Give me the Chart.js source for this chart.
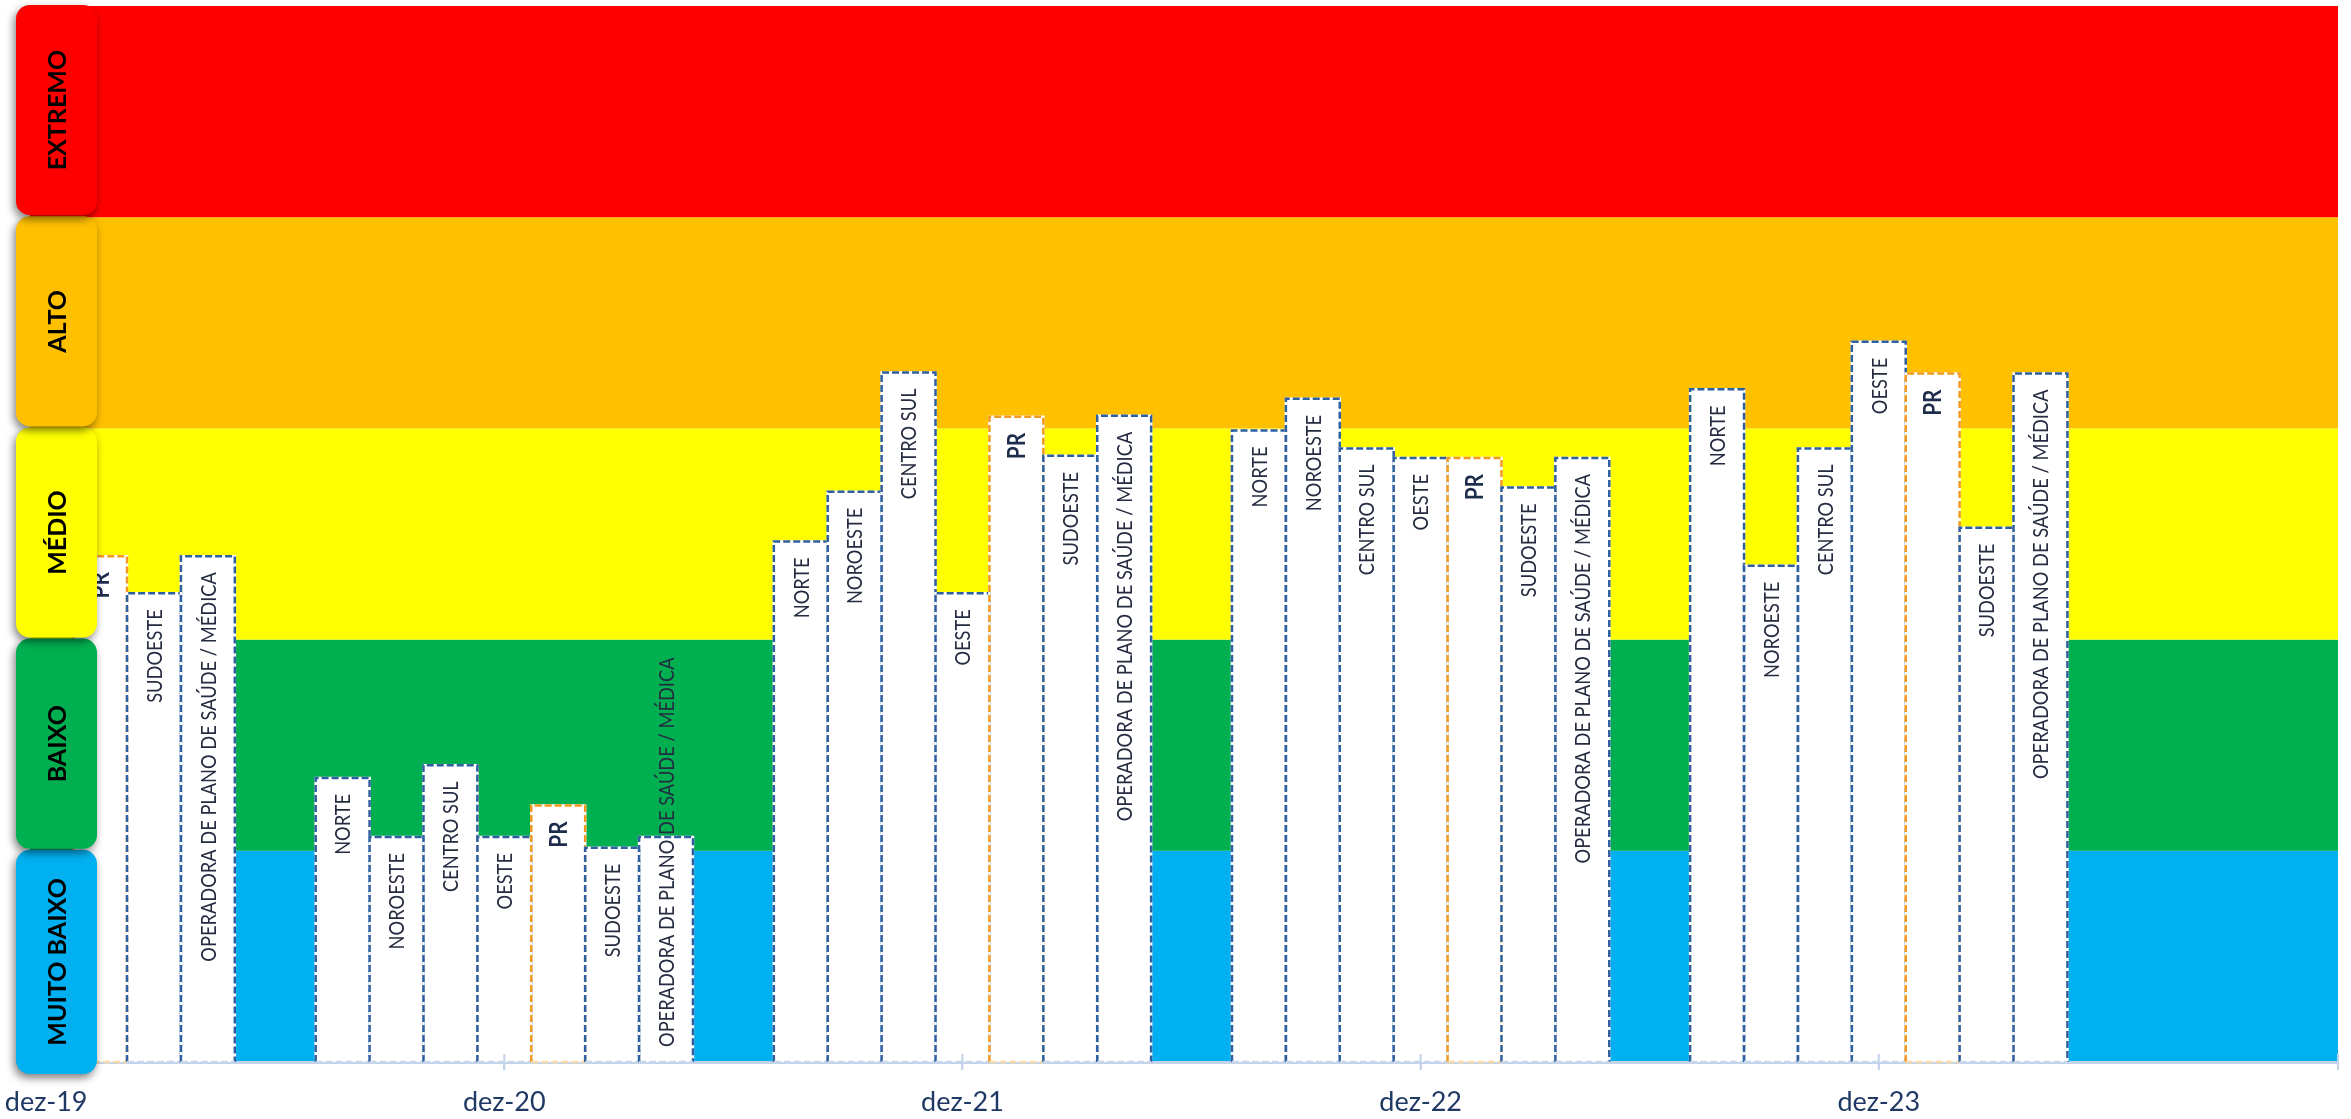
<!DOCTYPE html>
<html lang="pt-BR">
<head>
<meta charset="UTF-8">
<title>Níveis por região</title>
<script src="https://cdn.jsdelivr.net/npm/chart.js"></script>
<style>
    html, body { margin: 0; padding: 0; background: #ffffff; }
    #grafico { display: block; }
</style>
</head>
<body>
<canvas id="grafico" width="2351" height="1119"></canvas>
<script>
    const periodos = ['dez-19', 'dez-20', 'dez-21', 'dez-22', 'dez-23'];
    const regioes = ['NORTE', 'NOROESTE', 'CENTRO SUL', 'OESTE', 'PR', 'SUDOESTE', 'OPERADORA DE PLANO DE SAÚDE / MÉDICA'];

    const valoresDez19 = [null, null, null, null, 47.9, 44.4, 47.9];
    const valoresDez20 = [26.9, 21.3, 28.1, 21.3, 24.3, 20.3, 21.3];
    const valoresDez21 = [49.3, 54.0, 65.3, 44.4, 61.1, 57.4, 61.2];
    const valoresDez22 = [59.8, 62.8, 58.1, 57.2, 57.2, 54.4, 57.2];
    const valoresDez23 = [63.7, 47.0, 58.1, 68.2, 65.2, 50.6, 65.2];

    const niveis = ['MUITO BAIXO', 'BAIXO', 'MÉDIO', 'ALTO', 'EXTREMO'];
    const limitesNiveis = [0, 20, 40, 60, 80, 100];
    const coresNiveis = ['#00B0F0', '#00B050', '#FFFF00', '#FFC000', '#FF0000'];

    const series = [valoresDez19, valoresDez20, valoresDez21, valoresDez22, valoresDez23];
    const passo = 8.5; // 7 barras + espaço entre os grupos

    const pontos = [];
    series.forEach((valores, g) => {
        valores.forEach((v, k) => {
            if (v !== null) pontos.push({ x: g * passo + k - 3, y: v, regiao: regioes[k] });
        });
    });

    const corLinhaEixo = '#C3D3EA';
    const condensar = 0.87; // aproxima a largura da fonte original

    // faixas de fundo
    const faixas = {
        id: 'faixas',
        beforeDraw(chart) {
            const { ctx, chartArea, scales } = chart;
            ctx.save();
            for (let i = 0; i < niveis.length; i++) {
                const y1 = scales.y.getPixelForValue(limitesNiveis[i + 1]);
                const y0 = scales.y.getPixelForValue(limitesNiveis[i]);
                ctx.fillStyle = coresNiveis[i];
                ctx.fillRect(chartArea.left, y1, chartArea.right - chartArea.left, y0 - y1);
            }
            ctx.restore();
        }
    };

    // contornos tracejados e rótulos das barras
    const rotulosBarras = {
        id: 'rotulosBarras',
        afterDatasetsDraw(chart) {
            const { ctx, chartArea, scales } = chart;
            const meta = chart.getDatasetMeta(0);
            const dados = chart.data.datasets[0].data;
            ctx.save();
            ctx.beginPath();
            ctx.rect(chartArea.left, chartArea.top - 5, chartArea.right - chartArea.left, chartArea.bottom - chartArea.top + 10);
            ctx.clip();
            meta.data.forEach((el, i) => {
                const pr = dados[i].regiao === 'PR';
                const esq = el.x - el.width / 2, dir = el.x + el.width / 2;
                ctx.lineWidth = 2.5;
                ctx.beginPath();
                ctx.moveTo(esq, el.base);
                ctx.lineTo(esq, el.y);
                ctx.lineTo(dir, el.y);
                ctx.lineTo(dir, el.base);
                ctx.setLineDash([]);
                ctx.strokeStyle = '#ffffff';
                ctx.stroke();
                ctx.setLineDash([7, 3]);
                ctx.strokeStyle = pr ? '#F29A1F' : '#2E5F9E';
                ctx.stroke();
                ctx.beginPath();
                ctx.moveTo(esq, el.base);
                ctx.lineTo(dir, el.base);
                ctx.strokeStyle = pr ? '#F8D9A8' : '#C8D6EA';
                ctx.stroke();
            });
            ctx.setLineDash([]);
            ctx.restore();

            // marcas do eixo acima da linha
            ctx.save();
            ctx.strokeStyle = corLinhaEixo;
            ctx.lineWidth = 2;
            const base = chartArea.bottom;
            const marcas = scales.x.ticks.map(t => scales.x.getPixelForValue(t.value));
            marcas.push(chartArea.right);
            marcas.forEach(px => {
                ctx.beginPath();
                ctx.moveTo(px, base - 8);
                ctx.lineTo(px, base + 8);
                ctx.stroke();
            });
            ctx.restore();

            ctx.save();
            meta.data.forEach((el, i) => {
                const texto = dados[i].regiao;
                const pr = texto === 'PR';
                ctx.font = pr ? 'bold 24px Lato' : '21px Lato';
                ctx.fillStyle = pr ? '#1F2D4D' : '#252B40';
                ctx.textBaseline = 'middle';
                const largura = ctx.measureText(texto).width * condensar;
                const altura = el.base - el.y;
                ctx.save();
                if (largura + 32 <= altura) {
                    ctx.translate(el.x, el.y + 16);
                    ctx.rotate(-Math.PI / 2);
                    ctx.textAlign = 'right';
                } else {
                    ctx.translate(el.x, el.base - 15);
                    ctx.rotate(-Math.PI / 2);
                    ctx.textAlign = 'left';
                }
                ctx.scale(condensar, 1);
                ctx.fillText(texto, 0, 1);
                ctx.restore();
            });
            ctx.restore();
        },
        afterDraw(chart) {
            const { ctx, scales } = chart;
            const x0 = 16, x1 = 97, raio = 14;
            for (let i = 0; i < niveis.length; i++) {
                const topo = scales.y.getPixelForValue(limitesNiveis[i + 1]) - 1;
                const fundo = scales.y.getPixelForValue(limitesNiveis[i]) - 2 + (i === 0 ? 14 : 0);
                ctx.save();
                ctx.shadowColor = 'rgba(0,0,0,0.5)';
                ctx.shadowBlur = 8;
                ctx.shadowOffsetX = -2;
                ctx.shadowOffsetY = 4;
                ctx.fillStyle = coresNiveis[i];
                ctx.beginPath();
                ctx.roundRect(x0, topo, x1 - x0, fundo - topo, raio);
                ctx.fill();
                ctx.restore();

                ctx.save();
                ctx.translate((x0 + x1) / 2 + 1, (topo + fundo) / 2);
                ctx.rotate(-Math.PI / 2);
                ctx.font = 'bold 25px Lato';
                ctx.fillStyle = '#000000';
                ctx.textAlign = 'center';
                ctx.textBaseline = 'middle';
                ctx.fillText(niveis[i], 0, 0);
                ctx.restore();
            }
        }
    };

    new Chart(document.getElementById('grafico'), {
        type: 'bar',
        data: {
            datasets: [{
                data: pontos,
                backgroundColor: '#ffffff',
                borderWidth: 0,
                barPercentage: 1,
                categoryPercentage: 1
            }]
        },
        options: {
            responsive: false,
            animation: false,
            layout: { padding: { top: 6, right: 13, left: 30, bottom: 0 } },
            plugins: {
                legend: { display: false },
                tooltip: { enabled: false }
            },
            scales: {
                x: {
                    type: 'linear',
                    min: -0.3,
                    max: 42.52,
                    offset: false,
                    afterBuildTicks(scale) {
                        scale.ticks = periodos.map((p, i) => ({ value: i * passo }));
                    },
                    afterFit(scale) {
                        scale.height = 57;
                        scale.paddingLeft = 0;
                        scale.paddingRight = 0;
                    },
                    ticks: {
                        callback: (valor, indice) => periodos[indice],
                        color: '#1F3864',
                        font: { family: 'Lato', size: 27 },
                        padding: 16,
                        maxRotation: 0,
                        autoSkip: false
                    },
                    grid: {
                        offset: false,
                        drawOnChartArea: false,
                        tickLength: 8,
                        color: corLinhaEixo,
                        lineWidth: 2
                    },
                    border: { color: corLinhaEixo, width: 3 }
                },
                y: {
                    display: false,
                    min: 0,
                    max: 100
                }
            }
        },
        plugins: [faixas, rotulosBarras]
    });
</script>
</body>
</html>
